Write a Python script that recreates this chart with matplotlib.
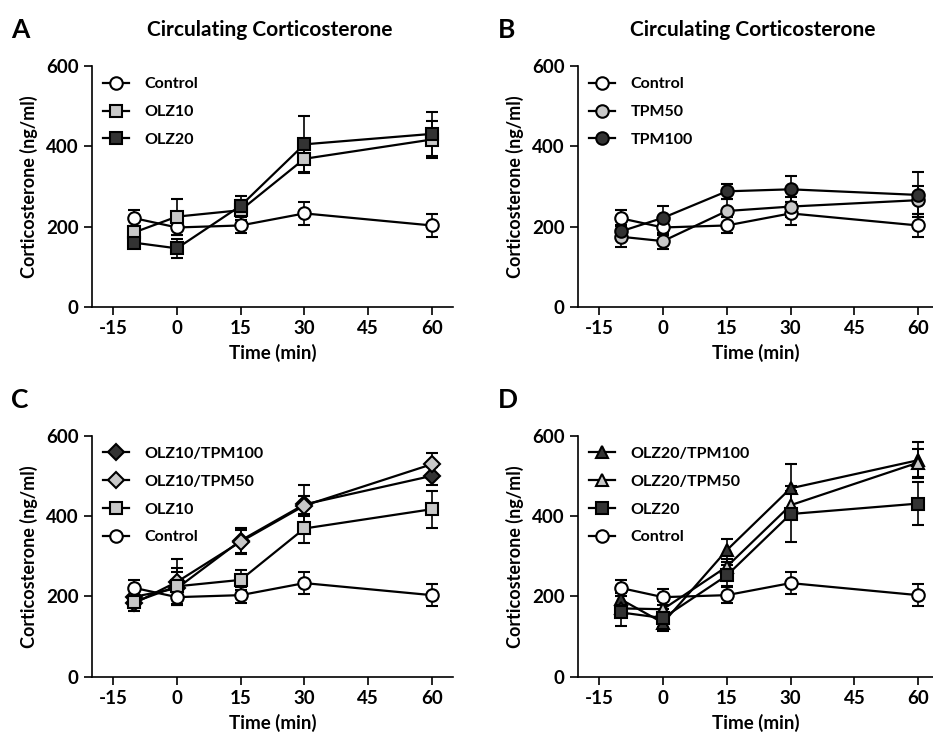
import numpy as np
import matplotlib
matplotlib.use('Agg')
import matplotlib.pyplot as plt

plt.rcParams['font.family'] = ['Lato', 'DejaVu Sans']
plt.rcParams['font.weight'] = 'bold'
plt.rcParams['axes.unicode_minus'] = False

# %% Data
time = [-10, 0, 15, 30, 60]
xticks = [-15, 0, 15, 30, 45, 60]
yticks = [0, 200, 400, 600]

control = [221, 198, 203, 233, 203]
control_err = [20, 20, 20, 28, 28]
olz10 = [186, 225, 241, 369, 417]
olz10_err = [15, 45, 25, 35, 46]
olz20 = [160, 146, 252, 405, 431]
olz20_err = [12, 23, 25, 70, 54]

tpm50 = [175, 164, 239, 250, 266]
tpm50_err = [26, 20, 30, 25, 35]
tpm100 = [188, 222, 288, 293, 279]
tpm100_err = [15, 29, 19, 32, 56]

olz10_tpm100 = [199, 220, 339, 429, 500]
olz10_tpm100_err = [20, 40, 30, 48, 22]
olz10_tpm50 = [183, 236, 336, 426, 529]
olz10_tpm50_err = [20, 57, 30, 25, 29]

olz20_tpm100 = [193, 134, 315, 469, 539]
olz20_tpm100_err = [15, 20, 29, 60, 45]
olz20_tpm50 = [170, 168, 274, 427, 533]
olz20_tpm50_err = [45, 20, 20, 35, 35]

LIGHT = '#c8c8c8'
DARK = '#333333'

# %% Plotting helper
def plotSeries(ax, y, err, marker, face, label, ms=9):
    c = ax.errorbar(time, y, yerr=err, color='black', marker=marker, markersize=ms,
                    markerfacecolor=face, markeredgecolor='black', markeredgewidth=1.5,
                    linewidth=1.6, elinewidth=1.2, capsize=4.5, capthick=1.2)
    c[0].set_label(label) # legend shows the data line only, no error bar
    return c[0]

def styleAxes(ax, handles, xmax, letter, title=None):
    ax.set_xlim(-20, xmax)
    ax.set_ylim(0, 600)
    ax.set_xticks(xticks)
    ax.set_yticks(yticks)
    ax.spines['top'].set_visible(False)
    ax.spines['right'].set_visible(False)
    ax.spines['left'].set_linewidth(1.2)
    ax.spines['bottom'].set_linewidth(1.2)
    ax.tick_params(direction='out', length=6, width=1.2, labelsize=13.5)
    for lab in ax.get_xticklabels() + ax.get_yticklabels():
        lab.set_fontweight('bold')
    ax.set_xlabel('Time (min)', fontsize=13.5, fontweight='bold', labelpad=5)
    ax.set_ylabel('Corticosterone (ng/ml)', fontsize=13, fontweight='bold', labelpad=6)
    ax.legend(handles=handles, loc='upper left', frameon=False, fontsize=11.5,
              handlelength=1.6, labelspacing=0.85, borderaxespad=0.3, handletextpad=1.0)
    ax.text(-0.225, 1.15, letter, transform=ax.transAxes, fontsize=19, fontweight='bold',
            ha='left', va='center')
    if title:
        ax.text(0.493, 1.15, title, transform=ax.transAxes, fontsize=15,
                fontweight='bold', ha='center', va='center')

fig = plt.figure(figsize=(9.33, 7.36), dpi=100)
axA = fig.add_axes([0.0986, 0.5829, 0.387, 0.3274])
axB = fig.add_axes([0.6195, 0.5829, 0.3805, 0.3274])
axC = fig.add_axes([0.0986, 0.0806, 0.387, 0.3274])
axD = fig.add_axes([0.6195, 0.0806, 0.3805, 0.3274])

# Panel A
h = [plotSeries(axA, control, control_err, 'o', 'white', 'Control'),
     plotSeries(axA, olz10, olz10_err, 's', LIGHT, 'OLZ10'),
     plotSeries(axA, olz20, olz20_err, 's', DARK, 'OLZ20')]
styleAxes(axA, h, 65, 'A', 'Circulating Corticosterone')

# Panel B
h = [plotSeries(axB, control, control_err, 'o', 'white', 'Control'),
     plotSeries(axB, tpm50, tpm50_err, 'o', LIGHT, 'TPM50'),
     plotSeries(axB, tpm100, tpm100_err, 'o', DARK, 'TPM100')]
styleAxes(axB, h, 63.5, 'B', 'Circulating Corticosterone')

# Panel C
h = [plotSeries(axC, olz10_tpm100, olz10_tpm100_err, 'D', DARK, 'OLZ10/TPM100', ms=8),
     plotSeries(axC, olz10_tpm50, olz10_tpm50_err, 'D', LIGHT, 'OLZ10/TPM50', ms=8),
     plotSeries(axC, olz10, olz10_err, 's', LIGHT, 'OLZ10'),
     plotSeries(axC, control, control_err, 'o', 'white', 'Control')]
styleAxes(axC, h, 65, 'C')

# Panel D
h = [plotSeries(axD, olz20_tpm100, olz20_tpm100_err, '^', DARK, 'OLZ20/TPM100'),
     plotSeries(axD, olz20_tpm50, olz20_tpm50_err, '^', LIGHT, 'OLZ20/TPM50'),
     plotSeries(axD, olz20, olz20_err, 's', DARK, 'OLZ20'),
     plotSeries(axD, control, control_err, 'o', 'white', 'Control')]
styleAxes(axD, h, 63.5, 'D')

fig.savefig('out.png', dpi=100)
plt.close(fig)
